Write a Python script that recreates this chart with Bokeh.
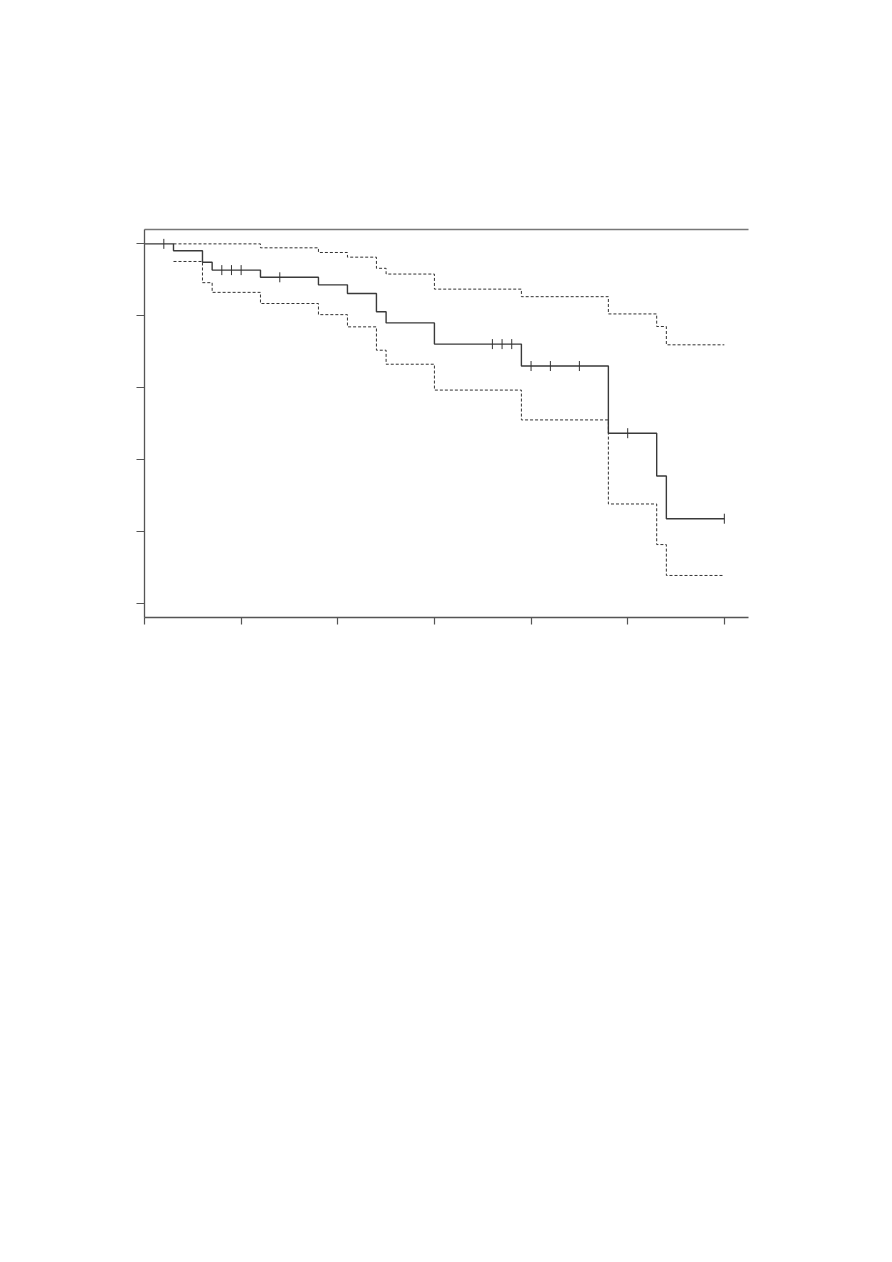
import numpy as np
from bokeh.plotting import figure
from bokeh.models import LinearAxis, FixedTicker, Range1d, CustomJSTickFormatter
from bokeh.embed import file_html
from bokeh.resources import INLINE

# Kaplan-Meier estimate with confidence band
event_times = [0.3, 0.6, 0.7, 1.2, 1.8, 2.1, 2.4, 2.5, 3.0, 3.9, 4.8, 5.3, 5.4]
surv = [0.981, 0.949, 0.927, 0.907, 0.886, 0.862, 0.811, 0.780, 0.721, 0.660, 0.473, 0.354, 0.235]
upper = [1.0, 1.0, 1.0, 0.989, 0.976, 0.963, 0.932, 0.916, 0.874, 0.853, 0.805, 0.770, 0.719]
lower = [0.951, 0.892, 0.865, 0.834, 0.803, 0.769, 0.704, 0.665, 0.593, 0.510, 0.276, 0.163, 0.077]
censor_times = [0.2, 0.8, 0.9, 1.0, 1.4, 3.6, 3.7, 3.8, 4.0, 4.2, 4.5, 5.0, 6.0]
end_time = 6.0
x_ticks = [0, 1, 2, 3, 4, 5, 6]
y_ticks = [0.0, 0.2, 0.4, 0.6, 0.8, 1.0]

p = figure(width=808, height=708, output_backend="svg", toolbar_location=None,
           x_range=Range1d(0, 6.25), y_range=Range1d(-0.04, 1.04),
           min_border_left=144, min_border_right=60, min_border_top=229,
           min_border_bottom=91)
p.outline_line_color = None
p.grid.visible = False
p.background_fill_color = "white"
p.border_fill_color = "white"

axcol = "#555555"
blank = CustomJSTickFormatter(code="return '';")
for ax in (p.xaxis[0], p.yaxis[0]):
    ax.axis_line_color = axcol
    ax.axis_line_width = 1.3
    ax.major_tick_line_color = axcol
    ax.major_tick_line_width = 1.2
    ax.major_tick_in = 0
    ax.minor_tick_line_color = None
    ax.formatter = blank
    ax.major_label_standoff = 0
p.xaxis[0].ticker = FixedTicker(ticks=x_ticks)
p.yaxis[0].ticker = FixedTicker(ticks=y_ticks)
p.xaxis[0].major_tick_out = 7
p.yaxis[0].major_tick_out = 8

top = LinearAxis(ticker=FixedTicker(ticks=[]), axis_line_color="#777777",
                 axis_line_width=1.5, major_tick_line_color=None,
                 minor_tick_line_color=None, formatter=blank)
p.add_layout(top, "above")

# survival curve
sx = [0.0] + event_times + [end_time]
sy = [1.0] + surv + [surv[-1]]
p.step(sx, sy, mode="after", line_color="#3a3a3a", line_width=1.4)

# confidence limits
ux = event_times + [end_time]
p.step(ux, upper + [upper[-1]], mode="after", line_color="#333333",
       line_width=1.0, line_dash="3 2")
p.step(ux, lower + [lower[-1]], mode="after", line_color="#333333",
       line_width=1.0, line_dash="3 2")

# censor marks
et = np.array(event_times)
sv = np.array(surv)
cy = []
for t in censor_times:
    idx = np.searchsorted(et, t, side="right") - 1
    cy.append(1.0 if idx < 0 else float(sv[idx]))
p.scatter(censor_times, cy, marker="dash", angle=np.pi / 2, size=10,
          line_color="#333333", line_width=1.0)

open("out.html", "w").write(file_html(p, INLINE))
